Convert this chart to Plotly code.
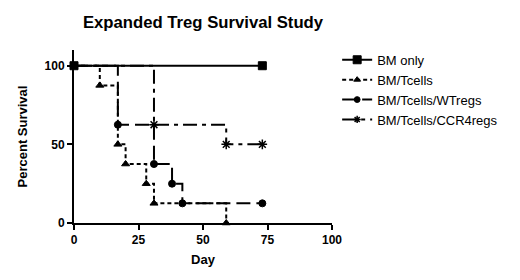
import plotly.graph_objects as go

# Data (day, percent survival) at step points
bm_day = [0, 73]
bm_surv = [100, 100]

tc_day = [0, 10, 17, 20, 28, 31, 59]
tc_surv = [100, 87.5, 50, 37.5, 25, 12.5, 0]

wt_day = [0, 17, 31, 38, 42, 73]
wt_surv = [100, 62.5, 37.5, 25, 12.5, 12.5]

ccr_day = [0, 31, 59, 73]
ccr_surv = [100, 62.5, 50, 50]

x_ticks = [0, 25, 50, 75, 100]
y_ticks = [0, 50, 100]

FONT = "Liberation Sans, Arial, sans-serif"

def sizes(n, s):
    return [0] + [s] * (n - 1)

MLINE = dict(color="black", width=1)

fig = go.Figure()
fig.add_trace(go.Scatter(x=tc_day, y=tc_surv, name="BM/Tcells", mode="lines+markers", legendrank=2,
                         line=dict(shape="hv", color="black", width=2, dash="4px,3px"),
                         marker=dict(symbol="triangle-up", size=sizes(len(tc_day), 7), color="black",
                                     opacity=1, line=MLINE)))
fig.add_trace(go.Scatter(x=wt_day, y=wt_surv, name="BM/Tcells/WTregs", mode="lines+markers", legendrank=3,
                         line=dict(shape="hv", color="black", width=2, dash="14px,6px"),
                         marker=dict(symbol="circle", size=sizes(len(wt_day), 7), color="black",
                                     opacity=1, line=MLINE)))
fig.add_trace(go.Scatter(x=ccr_day, y=ccr_surv, name="BM/Tcells/CCR4regs", mode="lines+markers", legendrank=4,
                         line=dict(shape="hv", color="black", width=2, dash="14px,5px,4px,5px"),
                         marker=dict(symbol="asterisk", size=sizes(len(ccr_day), 8), color="black",
                                     opacity=1, line=dict(color="black", width=1.5))))
fig.add_trace(go.Scatter(x=bm_day, y=bm_surv, name="BM only", mode="lines+markers", legendrank=1,
                         line=dict(shape="hv", color="black", width=2),
                         marker=dict(symbol="square", size=8, color="black", line=MLINE)))

fig.update_traces(cliponaxis=False)

W, H = 512, 272  # page body adds an 8px offset
fig.update_layout(
    width=W, height=H,
    margin=dict(l=66, r=188, t=42, b=57),
    paper_bgcolor="white", plot_bgcolor="white",
    font=dict(family=FONT, color="black"),
    title=dict(text="<b>Expanded Treg Survival Study</b>", x=195 / W, xanchor="center",
               y=1 - 14 / H, yanchor="middle", font=dict(size=16.7, family=FONT)),
    showlegend=True,
    legend=dict(x=1.02, y=1.03, xanchor="left", yanchor="top", font=dict(size=13, family=FONT),
                traceorder="normal", tracegroupgap=0, itemwidth=30,
                bgcolor="rgba(0,0,0,0)"),
    xaxis=dict(range=[0, 100], tickvals=x_ticks, ticktext=[f"<b>{t}</b>" for t in x_ticks],
               showgrid=False, zeroline=False,
               showline=True, linecolor="black", linewidth=2, ticks="outside",
               ticklen=5, tickwidth=2, tickcolor="black",
               tickfont=dict(size=12, family=FONT),
               title=dict(text="<b>Day</b>", font=dict(size=13), standoff=8)),
    yaxis=dict(range=[0, 110], tickvals=y_ticks, ticktext=[f"<b>{t}</b>" for t in y_ticks],
               showgrid=False, zeroline=False,
               showline=True, linecolor="black", linewidth=2, ticks="outside",
               ticklen=5, tickwidth=2, tickcolor="black",
               tickfont=dict(size=12, family=FONT),
               title=dict(text="<b>Percent Survival</b>", font=dict(size=13), standoff=14)),
)

fig.write_html("out.html")
